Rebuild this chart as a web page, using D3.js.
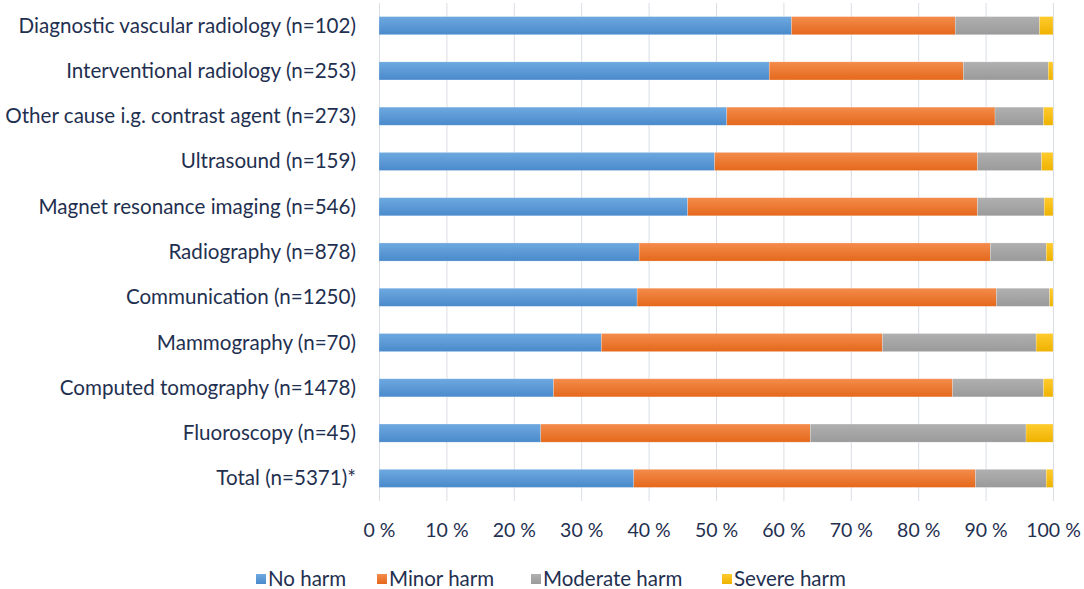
<!DOCTYPE html>
<html>
<head>
<meta charset="utf-8">
<script src="https://cdn.jsdelivr.net/npm/d3@7"></script>
<style>
  html, body { margin: 0; padding: 0; background: #ffffff; }
  svg { display: block; }
  text { font-family: Lato, "Open Sans", sans-serif; fill: #1f3050; }
</style>
</head>
<body>
<svg id="chart" width="1084" height="589"></svg>
<script>
// ---- Data ----
const categories = [
  "Diagnostic vascular radiology (n=102)",
  "Interventional radiology (n=253)",
  "Other cause i.g. contrast agent (n=273)",
  "Ultrasound (n=159)",
  "Magnet resonance imaging (n=546)",
  "Radiography (n=878)",
  "Communication (n=1250)",
  "Mammography (n=70)",
  "Computed tomography (n=1478)",
  "Fluoroscopy (n=45)",
  "Total (n=5371)*"
];
const seriesNames = ["No harm", "Minor harm", "Moderate harm", "Severe harm"];
const noHarm       = [61.2, 57.9, 51.6, 49.8, 45.8, 38.6, 38.3, 33.0, 25.9, 24.0, 37.8];
const minorHarm    = [24.3, 28.8, 39.8, 39.0, 43.0, 52.1, 53.3, 41.7, 59.2, 40.0, 50.7];
const moderateHarm = [12.5, 12.6,  7.2,  9.5,  9.9,  8.3,  7.9, 22.8, 13.5, 32.0, 10.5];
const severeHarm   = [ 2.0,  0.7,  1.4,  1.7,  1.3,  1.0,  0.5,  2.5,  1.4,  4.0,  1.0];
const tickValues = [0, 10, 20, 30, 40, 50, 60, 70, 80, 90, 100];
const tickLabels = ["0 %", "10 %", "20 %", "30 %", "40 %", "50 %", "60 %", "70 %", "80 %", "90 %", "100 %"];

// ---- Styles ----
const colors = ["#5B9BD5", "#ED7D31", "#A5A5A5", "#FFC000"];
const gradTop = ["#6EA9E0", "#F48C4C", "#B0B0B0", "#FFCB2E"];
const gradBot = ["#4A8ACB", "#E4681B", "#9A9A9A", "#EEB200"];

const svg = d3.select("#chart");
const plot = { left: 379, right: 1053, top: 3, bottom: 501 };

const rows = categories.map((c, i) => ({
  cat: c, vals: [noHarm[i], minorHarm[i], moderateHarm[i], severeHarm[i]]
}));

const x = d3.scaleLinear().domain([0, 100]).range([plot.left, plot.right]);
const y = d3.scaleBand().domain(categories).range([plot.top, plot.bottom])
  .paddingInner(0.6).paddingOuter(0.3);

// gradients
const defs = svg.append("defs");
colors.forEach((c, i) => {
  const g = defs.append("linearGradient").attr("id", "g" + i)
    .attr("x1", 0).attr("y1", 0).attr("x2", 0).attr("y2", 1);
  g.append("stop").attr("offset", "0%").attr("stop-color", gradTop[i]);
  g.append("stop").attr("offset", "100%").attr("stop-color", gradBot[i]);
});

// gridlines
svg.append("g").selectAll("line").data(tickValues).join("line")
  .attr("x1", d => x(d) + 0.5).attr("x2", d => x(d) + 0.5)
  .attr("y1", plot.top).attr("y2", plot.bottom)
  .attr("stroke", "#D9DDE4").attr("stroke-width", 1);

// stacked bars
const stack = d3.stack().keys([0, 1, 2, 3]).value((d, k) => d.vals[k]);
const stacked = stack(rows);

svg.append("g").selectAll("g").data(stacked).join("g")
  .attr("fill", (d, i) => "url(#g" + i + ")")
  .selectAll("rect").data(d => d.map(p => ({ p, cat: p.data.cat }))).join("rect")
  .attr("x", d => x(d.p[0]))
  .attr("width", d => Math.max(0, x(Math.min(100, d.p[1])) - x(d.p[0])))
  .attr("y", d => y(d.cat))
  .attr("height", y.bandwidth())
  .attr("stroke", "rgba(255,255,255,0.35)")
  .attr("stroke-width", 0.6);

// category labels (y axis)
const yAxis = d3.axisLeft(y).tickSize(0).tickPadding(0);
const yg = svg.append("g").attr("transform", `translate(${plot.left - 23},0)`).call(yAxis);
yg.select(".domain").remove();
yg.selectAll("text").attr("font-size", 20.6).attr("dy", "0.34em")
  .style("font-family", "Lato, 'Open Sans', sans-serif").attr("fill", "#1f3050");

// x axis tick labels
const xAxis = d3.axisBottom(x).tickValues(tickValues).tickSize(0).tickPadding(0)
  .tickFormat((d, i) => tickLabels[i]);
const xg = svg.append("g").attr("transform", `translate(0,${plot.bottom + 29})`).call(xAxis);
xg.select(".domain").remove();
xg.selectAll("text").attr("font-size", 19.5).attr("dy", "0.34em").attr("y", 0)
  .style("font-family", "Lato, 'Open Sans', sans-serif").attr("fill", "#1f3050");

// legend
const legendX = [256, 377, 531, 722];
const lg = svg.append("g").selectAll("g").data(seriesNames).join("g")
  .attr("transform", (d, i) => `translate(${legendX[i]},574)`);
lg.append("rect").attr("width", 10).attr("height", 10)
  .attr("fill", (d, i) => "url(#g" + i + ")");
lg.append("text").attr("x", 12).attr("y", 5).attr("dy", "0.36em")
  .attr("font-size", 20.5).text(d => d);
</script>
</body>
</html>
